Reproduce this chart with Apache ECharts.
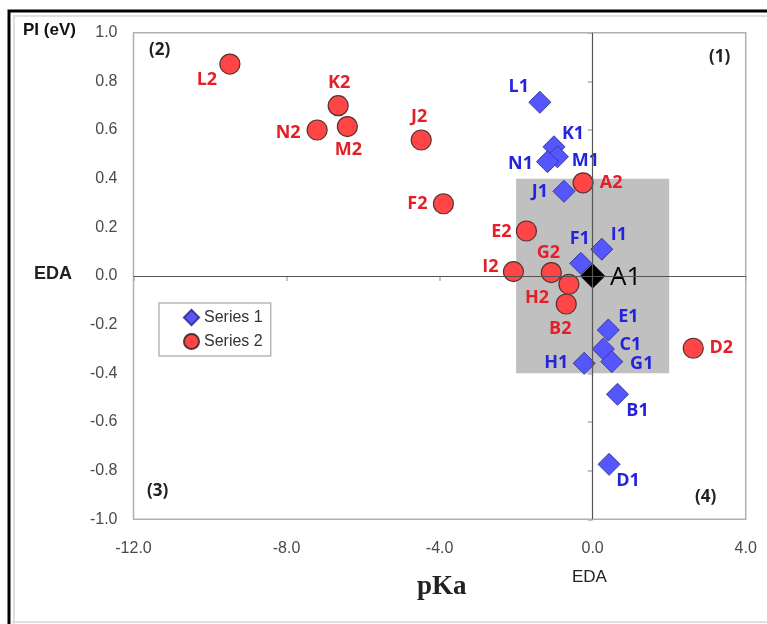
<!DOCTYPE html>
<html>
<head>
<meta charset="utf-8">
<script src="https://cdn.jsdelivr.net/npm/echarts@6/dist/echarts.min.js"></script>
<style>
  html, body { margin: 0; padding: 0; background: #fff; }
  #chart { width: 767px; height: 624px; }
</style>
</head>
<body>
<div id="chart"></div>
<script>
// Series 1 (blue diamonds), A1 is the reference point at the origin
const names1 = ['A1', 'B1', 'C1', 'D1', 'E1', 'F1', 'G1', 'H1', 'I1', 'J1', 'K1', 'L1', 'M1', 'N1'];
const pka1 = [0.0, 0.65, 0.28, 0.43, 0.41, -0.31, 0.50, -0.22, 0.24, -0.75, -1.01, -1.38, -0.92, -1.18];
const pi1 = [0.0, -0.486, -0.30, -0.774, -0.222, 0.052, -0.352, -0.359, 0.11, 0.348, 0.531, 0.714, 0.49, 0.47];

// Series 2 (red circles)
const names2 = ['A2', 'B2', 'D2', 'E2', 'F2', 'G2', 'H2', 'I2', 'J2', 'K2', 'L2', 'M2', 'N2'];
const pka2 = [-0.25, -0.69, 2.63, -1.73, -3.90, -1.08, -0.62, -2.07, -4.48, -6.65, -9.48, -6.41, -7.20];
const pi2 = [0.383, -0.115, -0.297, 0.185, 0.297, 0.014, -0.034, 0.018, 0.559, 0.70, 0.871, 0.614, 0.60];

// axes
const xTicks = [-12, -8, -4, 0, 4];
const yTicks = [-1, -0.8, -0.6, -0.4, -0.2, 0, 0.2, 0.4, 0.6, 0.8, 1];
const edaBox = [[-2, 0.4], [2, -0.4]];

// label placement (pixel offsets from marker), style only
const labelOffset = {
  A1: [33, 2], B1: [20, 17], C1: [27, -4], D1: [19, 17], E1: [20, -13], F1: [-1, -24], G1: [30, 2],
  H1: [-28, 0], I1: [17, -14], J1: [-24, 1], K1: [19, -13], L1: [-21, -15], M1: [28, 4], N1: [-27, 2],
  A2: [28, 0], B2: [-6, 25], D2: [28, 0], E2: [-25, 1], F2: [-26, 0], G2: [-3, -20], H2: [-32, 14],
  I2: [-23, -5], J2: [-2, -23], K2: [1, -23], L2: [-23, 16], M2: [1, 23], N2: [-29, 3]
};

const labelFont = { fontFamily: 'Open Sans', fontWeight: 'bold', fontSize: 18 };

function points(names, xs, ys, color) {
  return names.map((n, i) => {
    const item = {
      name: n,
      value: [xs[i], ys[i]],
      label: { show: true, position: 'inside', offset: labelOffset[n], formatter: n, color: color, ...labelFont }
    };
    if (n === 'A1') {
      item.symbolSize = 24;
      item.itemStyle = { color: '#000', borderColor: '#000' };
      item.label.color = '#000';
      item.label.fontSize = 26;
      item.label.fontWeight = 'normal';
    }
    return item;
  });
}

const chart = echarts.init(document.getElementById('chart'));

const tickText = { color: '#4a4a4a', fontFamily: 'Liberation Sans', fontSize: 16 };

chart.setOption({
  animation: false,
  grid: { left: 133.5, right: 21.3, top: 32.7, bottom: 104.7, show: true, borderColor: '#b0b0b0', borderWidth: 1.5 },
  xAxis: {
    type: 'value', min: xTicks[0], max: xTicks[xTicks.length - 1], interval: 4,
    axisLine: { show: false },
    axisTick: { show: true, length: 5, lineStyle: { color: '#b0b0b0', width: 1.5 } },
    splitLine: { show: false },
    axisLabel: { ...tickText, margin: 21, formatter: v => v.toFixed(1) }
  },
  yAxis: {
    type: 'value', min: yTicks[0], max: yTicks[yTicks.length - 1], interval: 0.2,
    axisLine: { show: false },
    axisTick: { show: true, length: 5, lineStyle: { color: '#b0b0b0', width: 1.5 } },
    splitLine: { show: false },
    axisLabel: { ...tickText, margin: 16, formatter: v => v.toFixed(1) }
  },
  legend: {
    data: [
      { name: 'Series 1', icon: 'diamond' },
      { name: 'Series 2', icon: 'circle' }
    ],
    orient: 'vertical', left: 159, top: 303,
    itemWidth: 15, itemHeight: 15, itemGap: 7,
    padding: [6, 8, 6, 24],
    borderColor: '#b8b8b8', borderWidth: 1.5,
    textStyle: { color: '#333', fontFamily: 'Liberation Sans', fontSize: 16 }
  },
  graphic: [
    { type: 'rect', shape: { x: 9, y: 11, width: 780, height: 700 }, style: { fill: 'none', stroke: '#000', lineWidth: 3 }, silent: true },
    { type: 'line', shape: { x1: 13, y1: 16, x2: 767, y2: 16 }, style: { stroke: '#e0e0e0', lineWidth: 2 } },
    { type: 'line', shape: { x1: 14, y1: 16, x2: 14, y2: 624 }, style: { stroke: '#e0e0e0', lineWidth: 2 } },
    { type: 'line', shape: { x1: 12, y1: 622, x2: 767, y2: 622 }, style: { stroke: '#e0e0e0', lineWidth: 2 } },
    { type: 'text', left: 23, top: 22, style: { text: 'PI (eV)', fill: '#111', font: 'bold 17px "Liberation Sans Narrow", "Liberation Sans"' } },
    { type: 'text', left: 34, top: 265, style: { text: 'EDA', fill: '#222', font: 'bold 18px "Liberation Sans"' } },
    { type: 'text', left: 572, top: 569, style: { text: 'EDA', fill: '#222', font: '17px "Liberation Sans"' } },
    { type: 'text', left: 417, top: 574, style: { text: 'pKa', fill: '#222', font: 'bold 27px "Liberation Serif"' } },
    { type: 'text', left: 149, top: 42, style: { text: '(2)', fill: '#222', font: 'bold 17px "Open Sans"' } },
    { type: 'text', left: 709, top: 49, style: { text: '(1)', fill: '#222', font: 'bold 17px "Open Sans"' } },
    { type: 'text', left: 147, top: 483, style: { text: '(3)', fill: '#222', font: 'bold 17px "Open Sans"' } },
    { type: 'text', left: 695, top: 489, style: { text: '(4)', fill: '#222', font: 'bold 17px "Open Sans"' } }
  ],
  series: [
    {
      name: 'box', type: 'scatter', data: [], z: 1, silent: true,
      markArea: {
        silent: true,
        itemStyle: { color: '#c0c0c0' },
        data: [[{ xAxis: edaBox[0][0], yAxis: edaBox[0][1] }, { xAxis: edaBox[1][0], yAxis: edaBox[1][1] }]]
      }
    },
    {
      name: 'zero', type: 'scatter', data: [], z: 2, silent: true,
      markLine: {
        silent: true, symbol: 'none', label: { show: false },
        lineStyle: { color: '#555', width: 1.2, type: 'solid' },
        data: [{ xAxis: 0 }, { yAxis: 0 }]
      }
    },
    {
      name: 'Series 2', type: 'scatter', symbol: 'circle', symbolSize: 20, z: 3,
      itemStyle: { color: '#ff4545', borderColor: '#5a3030', borderWidth: 1.2, opacity: 1 },
      data: points(names2, pka2, pi2, '#e3202a')
    },
    {
      name: 'Series 1', type: 'scatter', symbol: 'diamond', symbolSize: 22, z: 4,
      itemStyle: { color: '#5656ff', borderColor: '#3a3a99', borderWidth: 1, opacity: 1 },
      data: points(names1, pka1, pi1, '#2424dd')
    }
  ]
});
</script>
</body>
</html>
